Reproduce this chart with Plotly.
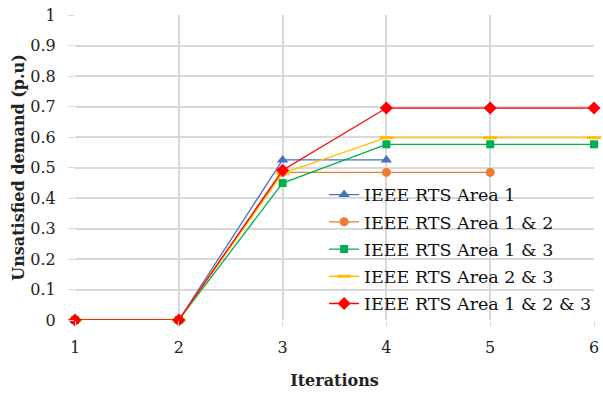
import plotly.graph_objects as go

iterations = [1, 2, 3, 4, 5, 6]

area_1 = [0, 0, 0.525, 0.525]
area_1_2 = [0, 0, 0.484, 0.484, 0.484]
area_1_3 = [0, 0, 0.449, 0.576, 0.576, 0.576]
area_2_3 = [0, 0, 0.481, 0.598, 0.598, 0.598]
area_1_2_3 = [0, 0, 0.491, 0.695, 0.695, 0.695]

series = [
    ("IEEE RTS Area 1", area_1, "#4472C4", "triangle-up", 10),
    ("IEEE RTS Area 1 & 2", area_1_2, "#ED7D31", "circle", 9),
    ("IEEE RTS Area 1 & 3", area_1_3, "#00B050", "square", 8),
    ("IEEE RTS Area 2 & 3", area_2_3, "#FFC000", "line-ew", 10),
    ("IEEE RTS Area 1 & 2 & 3", area_1_2_3, "#FF0000", "diamond", 10),
]

font_family = "DejaVu Serif"

fig = go.Figure()
for i, (name, vals, color, symbol, size) in enumerate(series):
    fig.add_trace(go.Scatter(
        x=iterations[:len(vals)],
        y=vals,
        name=name,
        legendgroup=f"g{i}",
        mode="lines+markers",
        line=dict(color=color, width=1.3),
        marker=dict(symbol=symbol, size=size, color=color,
                    line=dict(color=color, width=3 if symbol == "line-ew" else 0)),
        cliponaxis=False,
    ))

grid = "#d9d9d9"
fig.update_layout(
    width=603,
    height=394,
    margin=dict(l=75, r=6, t=15, b=74),
    paper_bgcolor="white",
    plot_bgcolor="white",
    font=dict(family=font_family, size=16, color="#222222"),
    showlegend=True,
    legend=dict(
        x=0.48, y=0.47, xanchor="left", yanchor="top",
        bgcolor="rgba(0,0,0,0)",
        font=dict(family=font_family, size=17.5, color="#111111"),
        itemwidth=30,
        tracegroupgap=1.5,
    ),
    xaxis=dict(
        range=[1, 6],
        tickvals=iterations,
        automargin=False,
        showgrid=True, gridcolor=grid, gridwidth=1.5,
        zeroline=False, showline=False,
        ticks="outside", ticklen=5, tickcolor=grid,
        ticklabeloverflow="allow",
        ticklabelstandoff=8,
        title=dict(text="<b>Iterations</b>", font=dict(family=font_family, size=16), standoff=18),
    ),
    yaxis=dict(
        range=[0, 1],
        dtick=0.1,
        tickformat="~g",
        automargin=False,
        showgrid=True, gridcolor=grid, gridwidth=1.5,
        zeroline=False, showline=False,
        ticks="outside", ticklen=6, tickcolor=grid,
        ticklabelstandoff=9,
        title=dict(text="<b>Unsatisfied demand (p.u)</b>", font=dict(family=font_family, size=16), standoff=1),
    ),
)

fig.write_html("out.html")
